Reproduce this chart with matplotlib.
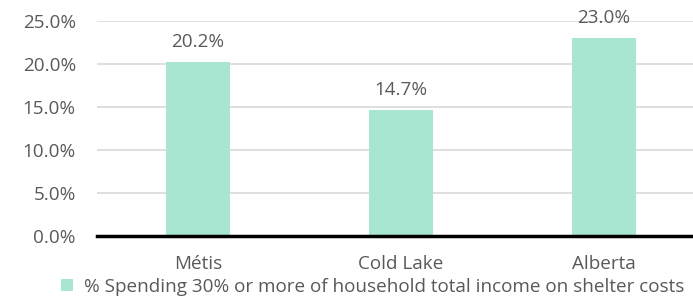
import matplotlib
matplotlib.use("Agg")
import matplotlib.pyplot as plt
from matplotlib.patches import Patch

categories = ["Métis", "Cold Lake", "Alberta"]
values = [20.2, 14.7, 23.0]
labels = ["20.2%", "14.7%", "23.0%"]
yticks = [0, 5, 10, 15, 20, 25]
ytick_labels = ["0.0%", "5.0%", "10.0%", "15.0%", "20.0%", "25.0%"]
legend_label = "% Spending 30% or more of household total income on shelter costs"

bar_color = "#a8e6d2"
text_color = "#595959"
grid_color = "#d9d9d9"

plt.rcParams["font.family"] = ["Open Sans", "DejaVu Sans"]
FS = 13.6

W, H = 693, 297
fig = plt.figure(figsize=(W / 100, H / 100), dpi=100)
left, right, bottom, top = 96.5, 693, 236, 21
ax = fig.add_axes([left / W, 1 - bottom / H, (right - left) / W, (bottom - top) / H])

x = list(range(len(categories)))
ax.bar(x, values, width=0.315, color=bar_color, zorder=2)
ax.set_xlim(-0.5, -0.5 + (right - left) / 203.0)
ax.set_ylim(0, 25)
ax.set_yticks(yticks)
ax.set_yticklabels(ytick_labels)
ax.set_xticks(x)
ax.set_xticklabels(categories)
ax.yaxis.grid(True, color=grid_color, linewidth=1.2, zorder=0)
ax.set_axisbelow(True)
for s in ["top", "right", "left"]:
    ax.spines[s].set_visible(False)
ax.spines["bottom"].set_color("black")
ax.spines["bottom"].set_linewidth(2.5)
ax.spines["bottom"].set_zorder(3)
ax.tick_params(axis="both", length=0, colors=text_color, labelsize=FS)
ax.tick_params(axis="y", pad=14.8)
ax.tick_params(axis="x", pad=14)

for xi, v, lab in zip(x, values, labels):
    ax.annotate(lab, (xi, v), xytext=(0, 14.4), textcoords="offset points",
                ha="center", va="center", fontsize=FS, color=text_color)

handle = Patch(facecolor=bar_color, edgecolor="none")
fig.legend([handle], [legend_label], loc="center", bbox_to_anchor=(373 / W, 1 - 287 / H),
           frameon=False, fontsize=FS, labelcolor=text_color, handlelength=0.6,
           handleheight=0.6, handletextpad=0.6, borderpad=0)

fig.savefig("out.png", dpi=100)
